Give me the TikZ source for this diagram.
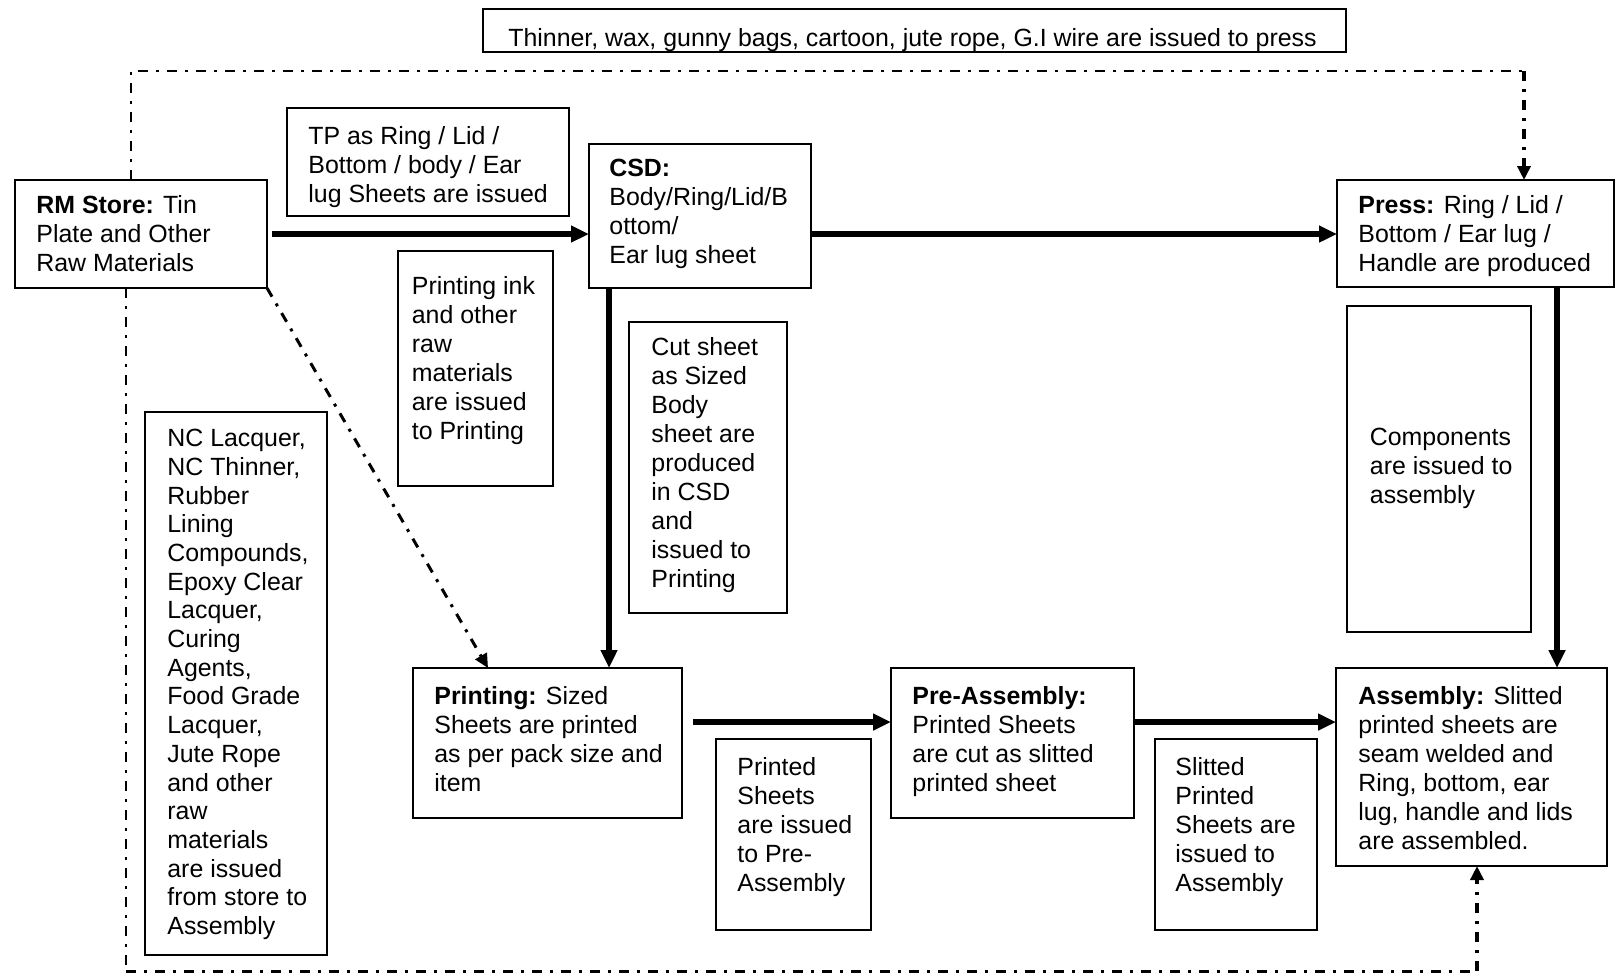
\documentclass[tikz,border=0pt]{standalone}
\usepackage{fontspec}
\setmainfont{Liberation Sans}
\usetikzlibrary{arrows.meta,calc}
\newcommand\mkbox[5]{\node[box, minimum width={(#4-#2)*0.5pt}, minimum height={(#5-#3)*0.5pt}] (#1) at (#2,#3) {};}
\begin{document}
\begin{tikzpicture}[x=0.5pt,y=-0.5pt,
  box/.style={draw, line width=1pt, rectangle, inner sep=0pt, outer sep=0pt, anchor=north west},
  txt/.style={anchor=north west, inner sep=0pt, xshift=-1pt, yshift=-1pt, align=left, font=\fontsize{12.45}{14.5}\selectfont, execute at begin node=\strut},
  main/.style={line width=2.8pt, -{Triangle[length=9pt,width=8pt]}},
  dd/.style={line width=1pt, dash pattern=on 5pt off 4pt on 1.5pt off 4pt},
  ddtip/.style={-{Triangle[length=7pt,width=6.5pt]}}
]
\useasboundingbox (0,0) rectangle (1617,975);

% boxes
\mkbox{top}{483}{9}{1346}{52}
\mkbox{rm}{15}{180}{267}{288}
\mkbox{tp}{287}{108}{569}{216}
\mkbox{csd}{589}{144}{811}{288}
\mkbox{press}{1337}{180}{1614}{287}
\mkbox{ink}{398}{251}{553}{486}
\mkbox{cut}{629}{322}{787}{613}
\mkbox{nc}{145}{412}{327}{955}
\mkbox{comp}{1347}{306}{1531}{632}
\mkbox{printing}{413}{668}{682}{818}
\mkbox{printed}{716}{739}{871}{930}
\mkbox{pre}{891}{668}{1134}{818}
\mkbox{slitted}{1155}{739}{1317}{930}
\mkbox{asm}{1336}{668}{1607}{866}

% texts
\begin{scope}
\clip (484,10) rectangle (1345,50);
\node[txt, anchor=base, xshift=0pt, yshift=0pt, execute at begin node={}] (toptxt) at (914.5,44.5) {Thinner, wax, gunny bags, cartoon, jute rope, G.I wire are issued to press};
\end{scope}
\node[txt] (rmtxt) at (38,192.7) {\textbf{RM Store:} Tin\\Plate and Other\\Raw Materials};
\node[txt] (tptxt) at (310,123.7) {TP as Ring / Lid /\\Bottom / body / Ear\\lug Sheets are issued};
\node[txt] (csdtxt) at (611,156.7) {\textbf{CSD:}\\Body/Ring/Lid/B\\ottom/\\Ear lug sheet};
\node[txt] (presstxt) at (1360,192.7) {\textbf{Press:} Ring / Lid /\\Bottom / Ear lug /\\Handle are produced};
\node[txt] (inktxt) at (413.5,273.7) {Printing ink\\and other\\raw\\materials\\are issued\\to Printing};
\node[txt] (cuttxt) at (653,335.2) {Cut sheet\\as Sized\\Body\\sheet are\\produced\\in CSD\\and\\issued to\\Printing};
\node[txt, font=\fontsize{12.45}{14.35}\selectfont] (nctxt) at (169,426.9) {NC Lacquer,\\NC Thinner,\\Rubber\\Lining\\Compounds,\\Epoxy Clear\\Lacquer,\\Curing\\Agents,\\Food Grade\\Lacquer,\\Jute Rope\\and other\\raw\\materials\\are issued\\from store to\\Assembly};
\node[txt] (comptxt) at (1371.5,425.7) {Components\\are issued to\\assembly};
\node[txt] (printingtxt) at (436,683.7) {\textbf{Printing:} Sized\\Sheets are printed\\as per pack size and\\item};
\node[txt] (printedtxt) at (739,754.7) {Printed\\Sheets\\are issued\\to Pre-\\Assembly};
\node[txt] (pretxt) at (914,683.7) {\textbf{Pre-Assembly:}\\Printed Sheets\\are cut as slitted\\printed sheet};
\node[txt] (slittedtxt) at (1177,754.7) {Slitted\\Printed\\Sheets are\\issued to\\Assembly};
\node[txt] (asmtxt) at (1360,683.7) {\textbf{Assembly:} Slitted\\printed sheets are\\seam welded and\\Ring, bottom, ear\\lug, handle and lids\\are assembled.};

% main connectors
\draw[main] ([xshift=2.5pt]rm.east) -- (rm.east -| csd.west);
\draw[main] (rm.east -| csd.east) -- (rm.east -| press.west);
\coordinate (v1) at (609,0);
\draw[main] (v1 |- csd.south) -- (v1 |- printing.north);
\coordinate (v2) at (1557,0);
\draw[main] (v2 |- press.south) -- (v2 |- asm.north);
\coordinate (h2) at (0,722);
\draw[main] ([xshift=5.5pt]printing.east |- h2) -- (pre.west |- h2);
\draw[main] (pre.east |- h2) -- (asm.west |- h2);

% dash-dot connectors
\coordinate (c1) at (131,71);
\coordinate (c2) at (1524,71);
\draw[dd] (c1 |- rm.north) -- (c1) -- (c2);
\draw[dd, line width=2pt, ddtip] (c2) -- (c2 |- press.north);
\coordinate (c3) at (126,971);
\coordinate (c4) at (1477,971);
\draw[dd] (c3 |- rm.south) -- (c3);
\draw[dd, line width=1.5pt] (c3) -- (c4);
\draw[dd, line width=2pt, ddtip] (c4) -- (c4 |- asm.south);
\coordinate (d1) at ($(printing.north west)+(75,0)$);
\draw[dd, line width=1.5pt, ddtip] (rm.south east) -- (d1);
\end{tikzpicture}
\end{document}
